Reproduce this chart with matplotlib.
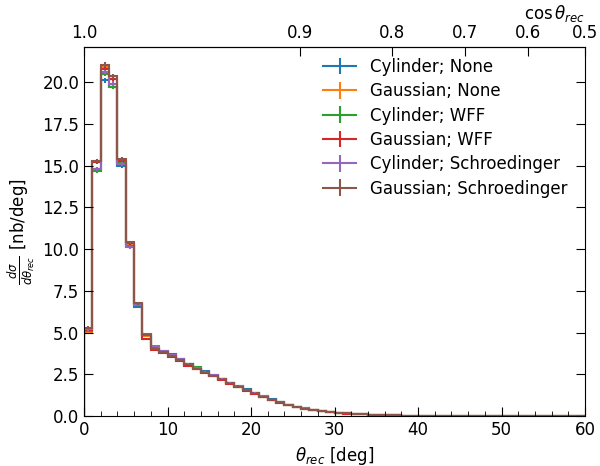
import numpy as np
import matplotlib
matplotlib.use("Agg")
import matplotlib.pyplot as plt

plt.rcParams['font.size'] = 12

# 1 deg bins from 0 to 60
edges = np.arange(0, 61, 1)
centers = 0.5 * (edges[1:] + edges[:-1])

# shared far tail (bins 40-59), essentially empty
tail = [0.02, 0.015, 0.012, 0.01, 0.008, 0.006, 0.005, 0.004, 0.003, 0.003,
        0.002, 0.002, 0.0015, 0.001, 0.001, 0.001, 0.0005, 0.0005, 0.0005, 0.0]

cyl_none = [5.2, 14.8, 20.1, 19.7, 15.0, 10.2, 6.55, 4.85, 4.1, 3.9,
            3.7, 3.42, 3.12, 2.9, 2.68, 2.45, 2.25, 2.0, 1.8, 1.6,
            1.38, 1.18, 1.0, 0.83, 0.68, 0.56, 0.46, 0.37, 0.3, 0.24,
            0.2, 0.16, 0.13, 0.1, 0.08, 0.065, 0.05, 0.04, 0.03, 0.025]
gau_none = [5.05, 15.2, 20.9, 20.2, 15.2, 10.3, 6.7, 4.8, 4.05, 3.82,
            3.65, 3.36, 3.08, 2.85, 2.6, 2.4, 2.2, 1.96, 1.75, 1.55,
            1.35, 1.16, 0.97, 0.81, 0.66, 0.54, 0.44, 0.36, 0.29, 0.23,
            0.19, 0.15, 0.12, 0.1, 0.08, 0.06, 0.05, 0.04, 0.03, 0.02]
cyl_wff = [5.1, 14.7, 20.5, 19.7, 15.2, 10.2, 6.7, 4.9, 4.1, 3.85,
           3.62, 3.4, 3.15, 2.92, 2.65, 2.43, 2.22, 1.98, 1.77, 1.57,
           1.37, 1.17, 0.99, 0.83, 0.67, 0.55, 0.45, 0.37, 0.3, 0.24,
           0.2, 0.16, 0.13, 0.1, 0.08, 0.065, 0.05, 0.04, 0.03, 0.025]
gau_wff = [5.15, 15.2, 20.8, 20.2, 15.3, 10.35, 6.7, 4.6, 3.95, 3.78,
           3.55, 3.3, 3.0, 2.8, 2.58, 2.38, 2.17, 1.93, 1.73, 1.52,
           1.32, 1.14, 0.96, 0.8, 0.65, 0.53, 0.44, 0.36, 0.29, 0.23,
           0.19, 0.15, 0.12, 0.1, 0.075, 0.06, 0.05, 0.04, 0.03, 0.02]
cyl_schr = [5.2, 14.8, 20.6, 19.9, 15.1, 10.1, 6.65, 4.85, 4.2, 3.9,
            3.68, 3.42, 3.12, 2.88, 2.66, 2.45, 2.23, 1.99, 1.78, 1.58,
            1.38, 1.18, 0.99, 0.83, 0.68, 0.56, 0.46, 0.37, 0.3, 0.24,
            0.2, 0.16, 0.13, 0.1, 0.08, 0.065, 0.05, 0.04, 0.03, 0.025]
gau_schr = [5.3, 15.3, 21.05, 20.35, 15.4, 10.4, 6.75, 4.85, 4.05, 3.85,
            3.62, 3.38, 3.1, 2.85, 2.62, 2.42, 2.2, 1.97, 1.76, 1.56,
            1.36, 1.17, 0.98, 0.82, 0.67, 0.55, 0.45, 0.37, 0.3, 0.24,
            0.2, 0.16, 0.13, 0.1, 0.08, 0.065, 0.05, 0.04, 0.03, 0.025]

# statistical errors, first 40 bins
errs = [0.08, 0.12, 0.14, 0.14, 0.12, 0.1, 0.08, 0.07, 0.06, 0.06,
        0.06, 0.06, 0.05, 0.05, 0.05, 0.05, 0.05, 0.04, 0.04, 0.04,
        0.04, 0.04, 0.03, 0.03, 0.03, 0.03, 0.03, 0.02, 0.02, 0.02,
        0.02, 0.02, 0.02, 0.01, 0.01, 0.01, 0.01, 0.01, 0.01, 0.01]

labels = ['Cylinder; None', 'Gaussian; None', 'Cylinder; WFF',
          'Gaussian; WFF', 'Cylinder; Schroedinger', 'Gaussian; Schroedinger']
series = [cyl_none, gau_none, cyl_wff, gau_wff, cyl_schr, gau_schr]
colors = ['C0', 'C1', 'C2', 'C3', 'C4', 'C5']

fig = plt.figure(figsize=(6, 4.66), dpi=100)
ax = fig.add_axes([0.14, 0.107, 0.835, 0.792])

err_all = np.array(errs + [0.0] * len(tail))
handles = []
for vals, lab, c in zip(series, labels, colors):
    y = np.array(vals + tail)
    ax.stairs(y, edges, color=c, lw=1.5, baseline=0)
    ax.errorbar(centers, y, yerr=err_all, fmt='none', ecolor=c, elinewidth=1.5)
    h = ax.errorbar([np.nan], [np.nan], yerr=[np.nan], color=c, lw=1.5, label=lab)
    handles.append(h)

ax.set_xlim(0, 60)
ax.set_ylim(0, 22.1)
ax.set_yticks(np.arange(0, 22.5, 2.5))
ax.set_xlabel(r'$\theta_{rec}$ [deg]')
ax.set_ylabel(r'$\frac{d\sigma}{d\theta_{rec}}$ [nb/deg]')
ax.minorticks_on()
ax.yaxis.set_minor_locator(plt.NullLocator())
ax.tick_params(which='both', direction='in', right=True)
ax.tick_params(which='major', length=6.5)
ax.tick_params(which='minor', length=3.6)

def deg2cos(d):
    return np.cos(np.deg2rad(d))

def cos2deg(c):
    return np.rad2deg(np.arccos(np.clip(c, -1, 1)))

sec = ax.secondary_xaxis('top', functions=(deg2cos, cos2deg))
sec.set_xticks([1.0, 0.9, 0.8, 0.7, 0.6, 0.5])
sec.tick_params(direction='in', length=6.5)
sec.set_xlabel(r'$\cos\theta_{rec}$', loc='right')

ax.legend(handles=handles, labels=labels, loc='upper right', frameon=False,
          labelspacing=0.38, borderaxespad=0.25, bbox_to_anchor=(0.986, 1.0))

fig.savefig('out.png', dpi=100)
